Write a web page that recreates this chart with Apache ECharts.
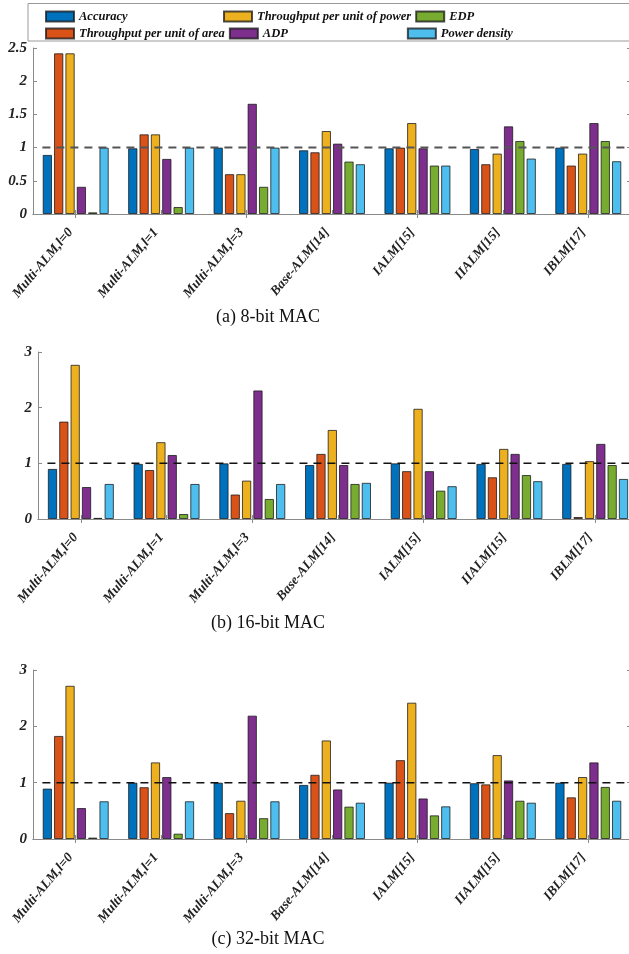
<!DOCTYPE html>
<html>
<head>
<meta charset="utf-8">
<script src="https://cdn.jsdelivr.net/npm/echarts@6/dist/echarts.min.js"></script>
<style>
html,body{margin:0;padding:0;background:#fff;}
#chart{width:629px;height:954px;}
</style>
</head>
<body>
<div id="chart"></div>
<script>
const categories = ['Multi-ALM,l=0','Multi-ALM,l=1','Multi-ALM,l=3','Base-ALM[14]','IALM[15]','IIALM[15]','IBLM[17]'];
const seriesNames = ['Accuracy','Throughput per unit of area','Throughput per unit of power','ADP','EDP','Power density'];
const legendOrder = ['Accuracy','Throughput per unit of power','EDP','Throughput per unit of area','ADP','Power density'];
const colors = ['#0072BD','#D95319','#EDB120','#7E2F8E','#77AC30','#4DBEEE'];

// (a) 8-bit MAC
const acc8   = [0.89, 0.99, 1.00, 0.96, 0.99, 0.98, 1.00];
const area8  = [2.42, 1.20, 0.60, 0.93, 1.00, 0.75, 0.73];
const power8 = [2.42, 1.20, 0.60, 1.25, 1.37, 0.91, 0.91];
const adp8   = [0.41, 0.83, 1.66, 1.06, 0.99, 1.32, 1.37];
const edp8   = [0.025, 0.105, 0.41, 0.79, 0.73, 1.10, 1.10];
const pd8    = [1.00, 1.00, 1.00, 0.75, 0.73, 0.835, 0.795];

// (b) 16-bit MAC
const acc16   = [0.90, 0.99, 1.00, 0.97, 1.00, 0.99, 0.99];
const area16  = [1.75, 0.88, 0.44, 1.17, 0.86, 0.75, 0.036];
const power16 = [2.77, 1.38, 0.69, 1.60, 1.98, 1.26, 1.04];
const adp16   = [0.575, 1.15, 2.31, 0.97, 0.86, 1.17, 1.35];
const edp16   = [0.02, 0.09, 0.36, 0.63, 0.51, 0.79, 0.97];
const pd16    = [0.63, 0.63, 0.63, 0.65, 0.59, 0.68, 0.72];

// (c) 32-bit MAC
const acc32   = [0.895, 1.00, 1.00, 0.96, 1.00, 0.99, 1.00];
const area32  = [1.83, 0.92, 0.46, 1.14, 1.40, 0.97, 0.74];
const power32 = [2.72, 1.36, 0.68, 1.75, 2.42, 1.49, 1.10];
const adp32   = [0.55, 1.10, 2.19, 0.88, 0.72, 1.04, 1.36];
const edp32   = [0.025, 0.095, 0.37, 0.575, 0.42, 0.68, 0.925];
const pd32    = [0.67, 0.67, 0.67, 0.645, 0.58, 0.645, 0.68];

const yTicks8  = [0, 0.5, 1, 1.5, 2, 2.5];
const yTicks16 = [0, 1, 2, 3];
const yTicks32 = [0, 1, 2, 3];

const panelTitles = ['(a) 8-bit MAC', '(b) 16-bit MAC', '(c) 32-bit MAC'];
const refLevel = 1;
const refStart = 0.61;

const panels = [
  {data:[acc8,area8,power8,adp8,edp8,pd8], ticks:yTicks8, grid:{left:33, top:48, width:598, height:166}, titleY:317, dash:'#555', dashW:2},
  {data:[acc16,area16,power16,adp16,edp16,pd16], ticks:yTicks16, grid:{left:38, top:352, width:600, height:167}, titleY:623, dash:'#111', dashW:1.5},
  {data:[acc32,area32,power32,adp32,edp32,pd32], ticks:yTicks32, grid:{left:33, top:670, width:598, height:169}, titleY:939, dash:'#111', dashW:1.5}
];

const FONT = '"Liberation Serif","Times New Roman",serif';
const axisGray = '#8a8a8a';

const grids = [], xAxes = [], yAxes = [], series = [], graphics = [];
panels.forEach((p, i) => {
  grids.push(Object.assign({outerBoundsMode:'none', containLabel:false}, p.grid));
  const tMin = p.ticks[0], tMax = p.ticks[p.ticks.length-1], tInt = p.ticks[1]-p.ticks[0];
  xAxes.push({type:'category', gridIndex:i, data:categories, position:'bottom',
    axisLine:{lineStyle:{color:axisGray, width:1}},
    axisTick:{show:true, inside:true, length:4, alignWithLabel:true, lineStyle:{color:axisGray}},
    axisLabel:{interval:0, rotate:50, margin:10, padding:[0,8,0,0], fontFamily:FONT, fontSize:13.5, fontWeight:'bold', fontStyle:'italic', color:'#222'}});
  xAxes.push({type:'category', gridIndex:i, data:categories, position:'top',
    axisLine:{lineStyle:{color:axisGray, width:1}},
    axisTick:{show:true, inside:true, length:4, alignWithLabel:true, lineStyle:{color:axisGray}},
    axisLabel:{show:false}});
  xAxes.push({type:'value', gridIndex:i, min:0.5, max:categories.length+0.5, show:false});
  yAxes.push({type:'value', gridIndex:i, min:tMin, max:tMax, interval:tInt, position:'left',
    axisLine:{show:true, lineStyle:{color:axisGray}},
    axisTick:{show:true, inside:true, length:4, lineStyle:{color:axisGray}},
    splitLine:{show:false},
    axisLabel:{margin:6, fontFamily:FONT, fontSize:15, fontWeight:'bold', fontStyle:'italic', color:'#222'}});
  yAxes.push({type:'value', gridIndex:i, min:tMin, max:tMax, interval:tInt, position:'right',
    axisLine:{show:true, lineStyle:{color:axisGray}},
    axisTick:{show:true, inside:true, length:4, lineStyle:{color:axisGray}},
    splitLine:{show:false}, axisLabel:{show:false}});
  p.data.forEach((arr, k) => {
    series.push({type:'bar', name:seriesNames[k], xAxisIndex:i*3, yAxisIndex:i*2,
      data:arr, barWidth:9.3, barGap:'22%',
      itemStyle:{color:colors[k], borderColor:'rgba(20,20,20,0.75)', borderWidth:1},
      animation:false, z:2});
  });
  series.push({type:'line', name:'ref'+i, xAxisIndex:i*3+2, yAxisIndex:i*2,
    data:[[refStart, refLevel],[categories.length+0.5, refLevel]], symbol:'none',
    lineStyle:{color:p.dash, width:p.dashW, type:[8,6]}, animation:false, z:5, silent:true});
  graphics.push({type:'text', x:268, y:p.titleY,
    style:{text:panelTitles[i], font:'18px '+FONT, fill:'#111', align:'center', verticalAlign:'middle'}});
});

graphics.push({type:'rect', shape:{x:28, y:3.5, width:620, height:37.5},
  style:{fill:'none', stroke:'#9a9a9a', lineWidth:1}, z:-1});

const option = {
  animation:false,
  grid:grids, xAxis:xAxes, yAxis:yAxes, series:series,
  legend:{
    orient:'horizontal', left:45, top:10, width:575, padding:0,
    itemWidth:28, itemHeight:10, itemGap:4, icon:'rect',
    data:legendOrder,
    formatter: name => '{t|' + name + '}',
    textStyle:{
      fontFamily:FONT, fontSize:12.5, fontWeight:'bold', fontStyle:'italic', color:'#111',
      rich:{t:{width:140, lineHeight:12, fontFamily:FONT, fontSize:12.5, fontWeight:'bold', fontStyle:'italic', color:'#111'}}
    }
  },
  graphic:graphics
};
const chart = echarts.init(document.getElementById('chart'), null, {renderer:'canvas'});
chart.setOption(option);
</script>
</body>
</html>
